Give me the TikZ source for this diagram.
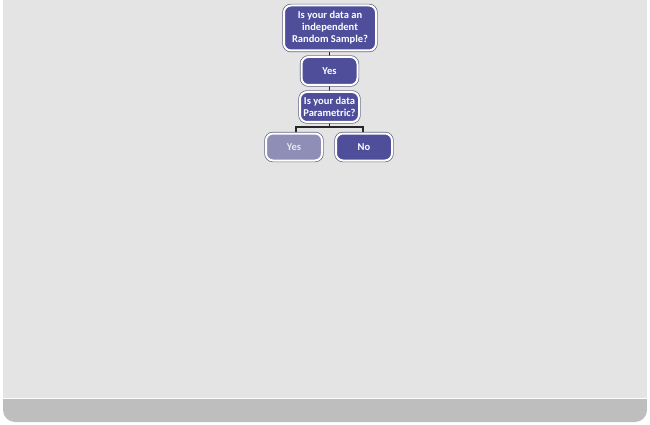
\documentclass[tikz,border=0pt]{standalone}
\usepackage{fontspec}
\setmainfont{Carlito}
\definecolor{panel}{HTML}{E4E4E4}
\definecolor{bar}{HTML}{BEBEBE}
\definecolor{boxblue}{HTML}{4E4E9A}
\definecolor{boxlight}{HTML}{8E8EB6}
\definecolor{edge}{HTML}{2E2E5E}
\tikzset{
  box/.style={draw=white, line width=2pt, fill=boxblue, rounded corners=7pt,
    text=white, font=\fontsize{10.5}{12}\selectfont\bfseries, align=center,
    inner sep=1pt,
    preaction={draw=edge!75, line width=3.4pt, rounded corners=7pt}},
  lightbox/.style={box, fill=boxlight, text=white!80!boxlight},
  conn/.style={draw=black!85, line width=1.6pt}
}
\begin{document}
\begin{tikzpicture}[x=1pt,y=-1pt]
\useasboundingbox (0,0) rectangle (650,425);
\fill[white] (0,0) rectangle (650,425);
\fill[panel] (3,0) rectangle (647,400);
\fill[bar, rounded corners=12pt] (3,398) -- (3,422) -- (647,422) -- (647,398) -- cycle;
\fill[bar] (3,398) rectangle (647,410);
\draw[white!92!panel, line width=0.6pt] (3,398) -- (647,398);
\coordinate (mid) at (329.5,127);
\coordinate (top) at (329.5,28);
\draw[conn] (top) -- (mid);
\draw[conn] (296,148) |- (mid) -| (363,148);
\node[box, minimum width=92pt, minimum height=45pt] (q1) at (330,28) {Is your data an\\independent\\Random Sample?};
\node[box, minimum width=56pt, minimum height=28pt] (y1) at (329.5,71) {Yes};
\node[box, minimum width=59pt, minimum height=30pt] (q2) at (329.5,107) {Is your data\\Parametric?};
\node[lightbox, minimum width=56pt, minimum height=27pt] (y2) at (294,147) {Yes};
\node[box, minimum width=56pt, minimum height=27pt] (n2) at (364,147) {No};
\end{tikzpicture}
\end{document}
